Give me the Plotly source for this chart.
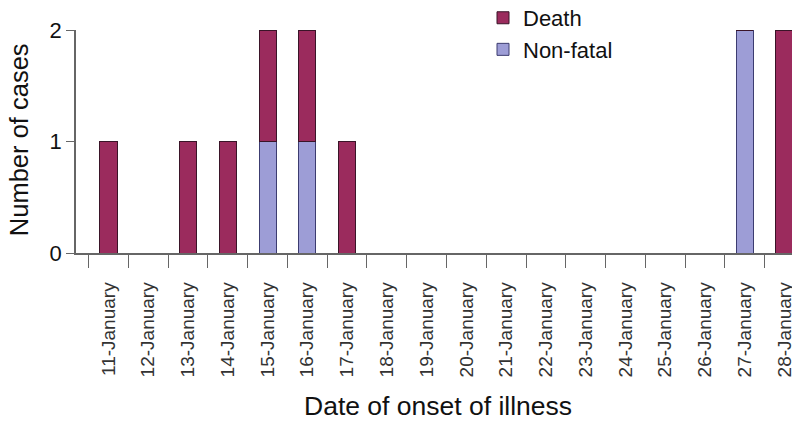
import plotly.graph_objects as go

dates = ["11-January", "12-January", "13-January", "14-January", "15-January",
         "16-January", "17-January", "18-January", "19-January", "20-January",
         "21-January", "22-January", "23-January", "24-January", "25-January",
         "26-January", "27-January", "28-January"]
non_fatal = [0, 0, 0, 0, 1, 1, 0, 0, 0, 0, 0, 0, 0, 0, 0, 0, 2, 0]
death = [1, 0, 1, 1, 1, 1, 1, 0, 0, 0, 0, 0, 0, 0, 0, 0, 0, 2]
y_ticks = [0, 1, 2]

FONT = "Liberation Sans, Arial, sans-serif"
OFF = 8  # page body margin offset
W, H = 800 - OFF, 421 - OFF
ML, MR, MT = 76 - OFF, 0, 30 - OFF
PLOT_BOTTOM = 252.7 - OFF
MB = H - PLOT_BOTTOM
PW = W - ML - MR
PH = PLOT_BOTTOM - MT

fig = go.Figure()
fig.add_trace(go.Bar(
    x=dates, y=non_fatal, name="Non-fatal", width=0.43,
    marker=dict(color="#9d9dd6", line=dict(color="#3c3c70", width=1)),
    legendgroup="b", legendrank=2,
))
fig.add_trace(go.Bar(
    x=dates, y=death, name="Death", width=0.43,
    marker=dict(color="#9b2b5d", line=dict(color="#3a1428", width=1)),
    legendgroup="a", legendrank=1,
))

fig.update_layout(
    width=W, height=H,
    margin=dict(l=ML, r=MR, t=MT, b=MB, pad=0, autoexpand=False),
    barmode="stack",
    plot_bgcolor="white", paper_bgcolor="white",
    font=dict(family=FONT, color="#111"),
    showlegend=True,
    legend=dict(
        xref="paper", yref="paper",
        x=(483 - OFF - ML) / PW, y=1 + (MT + 11) / PH, xanchor="left", yanchor="top",
        font=dict(size=22, family=FONT, color="#111"),
        bgcolor="rgba(0,0,0,0)", tracegroupgap=0,
        traceorder="grouped",
    ),
    xaxis=dict(
        type="category",
        range=[-0.817, 17.39],
        showgrid=False, zeroline=False,
        showline=True, linecolor="#666", linewidth=1.5,
        ticks="outside", tickson="boundaries", ticklen=13, tickcolor="#666", tickwidth=1.2,
        tickangle=-90, ticklabelstandoff=20,
        tickfont=dict(size=19, family=FONT, color="#333"),
        automargin=False,
    ),
    yaxis=dict(
        range=[0, 2],
        tickvals=y_ticks,
        showgrid=False, zeroline=False,
        showline=True, linecolor="#666", linewidth=1.5,
        ticks="outside", ticklen=8, tickcolor="#666", tickwidth=1.2,
        tickfont=dict(size=22, family=FONT, color="#111"),
        automargin=False,
    ),
    annotations=[
        dict(text="Number of cases", xref="paper", yref="paper",
             x=(19 - OFF - ML) / PW, y=(PLOT_BOTTOM - (140 - OFF)) / PH,
             xanchor="center", yanchor="middle",
             textangle=-90, showarrow=False,
             font=dict(size=25.5, family=FONT, color="#111")),
        dict(text="Date of onset of illness", xref="paper", yref="paper",
             x=(437.5 - OFF - ML) / PW, y=-((405 - OFF) - PLOT_BOTTOM) / PH,
             xanchor="center", yanchor="middle",
             showarrow=False,
             font=dict(size=26.5, family=FONT, color="#111")),
    ],
)

fig.write_html("out.html")
